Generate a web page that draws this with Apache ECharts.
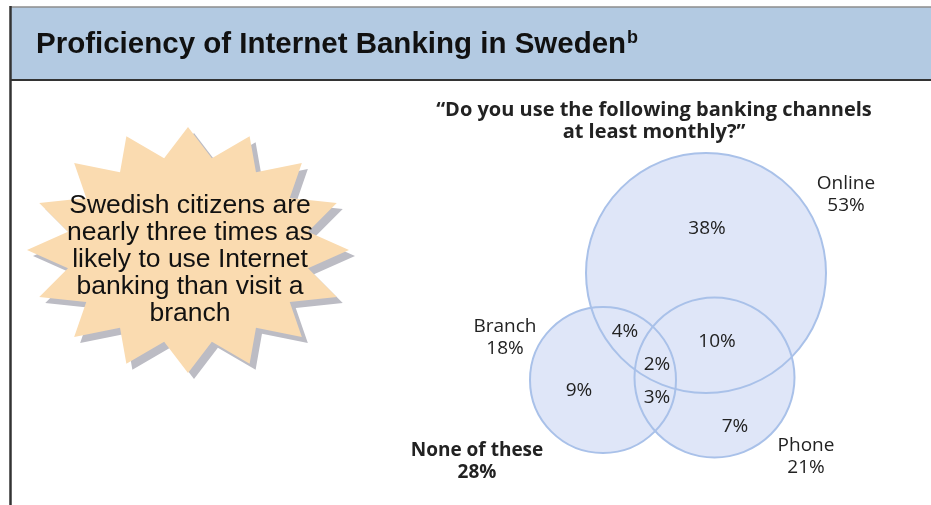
<!DOCTYPE html>
<html>
<head>
<meta charset="utf-8">
<script src="https://cdn.jsdelivr.net/npm/echarts@6/dist/echarts.min.js"></script>
<style>
  html, body { margin: 0; padding: 0; background: #ffffff; }
  #chart { width: 931px; height: 505px; }
</style>
</head>
<body>
<div id="chart"></div>
<script>
// Survey shares, % of respondents using each channel at least monthly
const setNames = ['Online', 'Branch', 'Phone'];
const setShares = [53, 18, 21];
const regionNames = ['Online only', 'Online & Branch', 'Online & Phone', 'All three', 'Branch only', 'Branch & Phone', 'Phone only'];
const regionShares = [38, 4, 10, 2, 9, 3, 7];
const noneLabel = 'None of these';
const noneShare = 28;

// Texts
const headline = 'Proficiency of Internet Banking in Sweden';
const headlineNote = 'b';
const questionLines = ['\u201CDo you use the following banking channels', 'at least monthly?\u201D'];
const calloutLines = ['Swedish citizens are', 'nearly three times as', 'likely to use Internet', 'banking than visit a', 'branch'];

// Layout (canvas units of the hidden cartesian grid)
const circleLayout = [
  { cx: 706, cy: 273, r: 120 },
  { cx: 603, cy: 380, r: 73 },
  { cx: 714.5, cy: 377.5, r: 80 }
];
const setLabelPos = [[846, 195], [505, 337.5], [806, 456.5]];
const regionLabelPos = [[707, 229], [625, 332], [717, 342], [657, 365], [579, 391], [657, 398], [735, 427]];
const noneLabelPos = [477, 462];

const FILL = '#dfe6f8';
const EDGE = '#a9c1e9';
const INK = '#222222';
const VENN_FONT = '"Open Sans", "Noto Sans", sans-serif';

// Starburst callout outline
function starPoints(cx, cy, rx, ry, spikes, inner) {
  const pts = [];
  for (let i = 0; i < spikes * 2; i++) {
    const a = -Math.PI / 2 + i * Math.PI / spikes;
    const k = i % 2 === 0 ? 1 : inner;
    pts.push([cx + Math.cos(a) * rx * k, cy + Math.sin(a) * ry * k]);
  }
  return pts;
}
const starCx = 188, starCy = 250;
const star = starPoints(starCx, starCy, 161, 123, 16, 0.76);
const starShadow = star.map(p => [p[0] + 6, p[1] + 6]);

const circleData = circleLayout.map((c, i) => ({ name: setNames[i], value: [c.cx, c.cy, c.r, setShares[i]] }));

function circleItem(fill, stroke) {
  return function (params, api) {
    const c = api.coord([api.value(0), api.value(1)]);
    const r = api.size([api.value(2), 0])[0];
    return {
      type: 'circle',
      shape: { cx: c[0], cy: c[1], r: r },
      style: { fill: fill, stroke: stroke, lineWidth: 2 }
    };
  };
}

function textItem(getText, bold) {
  return function (params, api) {
    const p = api.coord([api.value(0), api.value(1)]);
    return {
      type: 'text',
      x: p[0],
      y: p[1],
      style: {
        text: getText(params.dataIndex),
        fill: INK,
        fontFamily: VENN_FONT,
        fontSize: 19,
        fontWeight: bold ? 'bold' : 'normal',
        lineHeight: 22,
        align: 'center',
        verticalAlign: 'middle'
      }
    };
  };
}

const chart = echarts.init(document.getElementById('chart'), null, { renderer: 'canvas' });

chart.setOption({
  animation: false,
  backgroundColor: '#ffffff',
  grid: { left: 0, right: 0, top: 0, bottom: 0 },
  xAxis: { type: 'value', min: 0, max: 931, show: false },
  yAxis: { type: 'value', min: 0, max: 505, inverse: true, show: false },
  graphic: [
    // header band
    { type: 'rect', shape: { x: 10, y: 7, width: 925, height: 73 }, style: { fill: '#b3cae2' }, z: 0 },
    { type: 'line', shape: { x1: 10, y1: 7, x2: 931, y2: 7 }, style: { stroke: '#8c8c8c', lineWidth: 1.5 }, z: 1 },
    { type: 'line', shape: { x1: 10, y1: 80, x2: 931, y2: 80 }, style: { stroke: '#333333', lineWidth: 2 }, z: 1 },
    { type: 'line', shape: { x1: 10.5, y1: 6, x2: 10.5, y2: 505 }, style: { stroke: '#333333', lineWidth: 2.5 }, z: 1 },
    {
      type: 'text', x: 36, y: 45, z: 2,
      style: {
        text: '{t|' + headline + '}{s|' + headlineNote + '}',
        verticalAlign: 'middle',
        rich: {
          t: { fontFamily: '"Liberation Sans", Arial, sans-serif', fontWeight: 'bold', fontSize: 29.5, lineHeight: 34, fill: '#111111' },
          s: { fontFamily: '"Liberation Sans", Arial, sans-serif', fontWeight: 'bold', fontSize: 18, lineHeight: 34, fill: '#111111', verticalAlign: 'top', padding: [1, 0, 0, 1] }
        }
      }
    },
    // starburst callout
    { type: 'polygon', shape: { points: starShadow }, style: { fill: '#bcbcc4' }, z: 1 },
    { type: 'polygon', shape: { points: star }, style: { fill: '#fadbb0' }, z: 2 },
    {
      type: 'text', x: 190, y: 260, z: 3,
      style: {
        text: calloutLines.join('\n'),
        fontFamily: '"Liberation Sans", Arial, sans-serif',
        fontSize: 26.5, lineHeight: 27,
        fill: '#111111', align: 'center', verticalAlign: 'middle'
      }
    },
    // survey question
    {
      type: 'text', x: 654, y: 121, z: 3,
      style: {
        text: questionLines.join('\n'),
        fontFamily: VENN_FONT, fontWeight: 'bold',
        fontSize: 20, lineHeight: 22,
        fill: INK, align: 'center', verticalAlign: 'middle'
      }
    }
  ],
  series: [
    {
      type: 'custom', name: 'fill', z: 1,
      renderItem: circleItem(FILL, null),
      data: circleData
    },
    {
      type: 'custom', name: 'edge', z: 2,
      renderItem: circleItem('none', EDGE),
      data: circleData
    },
    {
      type: 'custom', name: 'sets', z: 3,
      renderItem: textItem(i => setNames[i] + '\n' + setShares[i] + '%', false),
      data: setLabelPos.map((p, i) => ({ name: setNames[i], value: p }))
    },
    {
      type: 'custom', name: 'regions', z: 3,
      renderItem: textItem(i => regionShares[i] + '%', false),
      data: regionLabelPos.map((p, i) => ({ name: regionNames[i], value: p }))
    },
    {
      type: 'custom', name: 'none', z: 3,
      renderItem: textItem(() => noneLabel + '\n' + noneShare + '%', true),
      data: [{ name: noneLabel, value: noneLabelPos }]
    }
  ]
});
</script>
</body>
</html>
